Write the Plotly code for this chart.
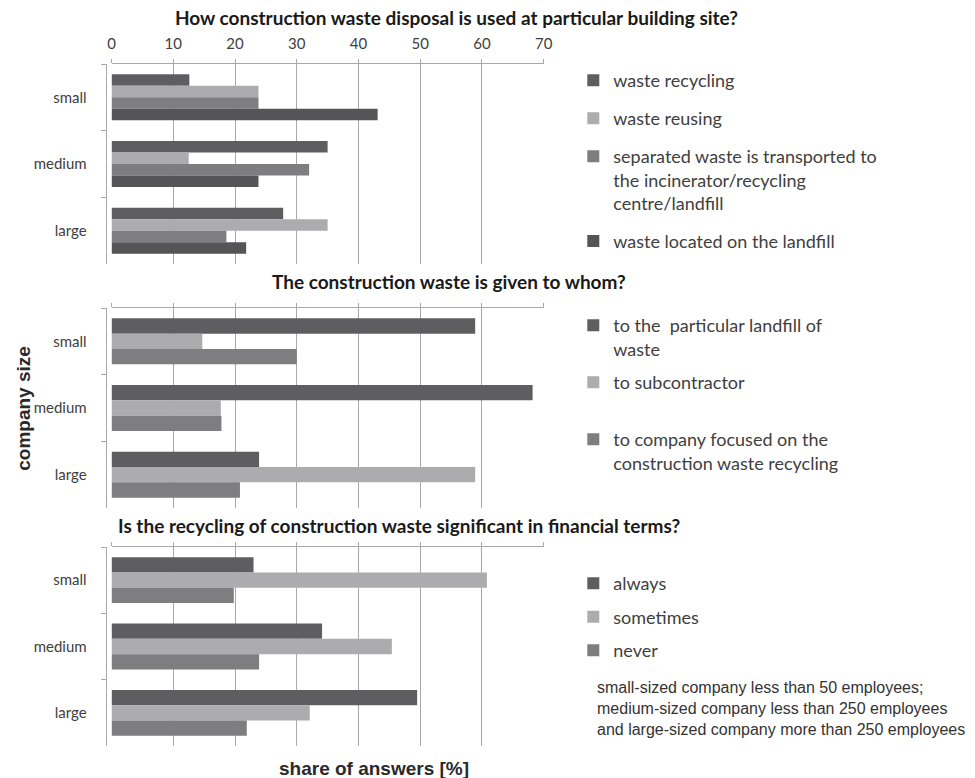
import plotly.graph_objects as go

# ---------------- data ----------------
sizes = ["small", "medium", "large"]
x_ticks = [0, 10, 20, 30, 40, 50, 60, 70]

p1_title = "How construction waste disposal is used at particular building site?"
p1_names = ["waste recycling", "waste reusing",
            "separated waste is transported to<br>the incinerator/recycling<br>centre/landfill",
            "waste located on the landfill"]
p1_recycling = [12.6, 35.0, 27.8]
p1_reusing = [23.8, 12.5, 35.0]
p1_separated = [23.8, 32.0, 18.6]
p1_landfill = [43.1, 23.8, 21.8]

p2_title = "The construction waste is given to whom?"
p2_names = ["to the  particular landfill of<br>waste", "to subcontractor<br>\u00a0",
            "to company focused on the<br>construction waste recycling"]
p2_landfill = [58.9, 68.2, 23.9]
p2_subcontractor = [14.7, 17.7, 58.9]
p2_company = [30.0, 17.8, 20.8]

p3_title = "Is the recycling of construction waste significant in financial terms?"
p3_names = ["always", "sometimes", "never"]
p3_always = [23.0, 34.1, 49.5]
p3_sometimes = [60.8, 45.4, 32.1]
p3_never = [19.8, 23.9, 21.9]

note_lines = ["small-sized company less than 50 employees;",
              "medium-sized company less than 250 employees",
              "and large-sized company more than 250 employees"]
y_title = "company size"
x_title = "share of answers [%]"

# ---------------- style ----------------
W, H = 975, 778
DARK = "#5e5e61"
LIGHT = "#acacae"
MID = "#7e7e81"
DARKEST = "#555557"
GRID = "#a8a8a8"
TXT = "#404040"
FONT = "Lato"


def px(x):
    return x / W


def py(y):
    return 1 - y / H


fig = go.Figure()

panels = [
    (p1_names, [p1_recycling, p1_reusing, p1_separated, p1_landfill],
     [DARK, LIGHT, MID, DARKEST], "x", "y", "legend"),
    (p2_names, [p2_landfill, p2_subcontractor, p2_company],
     [DARK, LIGHT, MID], "x2", "y2", "legend2"),
    (p3_names, [p3_always, p3_sometimes, p3_never],
     [DARK, LIGHT, MID], "x3", "y3", "legend3"),
]

for pi, (names, series, colors, xa, ya, lg) in enumerate(panels):
    for si, (nm, vals, col) in enumerate(zip(names, series, colors)):
        fig.add_trace(go.Bar(
            x=vals, y=sizes, orientation="h", name=nm,
            marker=dict(color=col, line=dict(width=0)),
            xaxis=xa, yaxis=ya, legend=lg,
            legendgroup=f"p{pi}s{si}",
        ))

x_dom = [px(109), px(547)]
y_doms = [[py(264), py(64)], [py(508), py(308)], [py(746), py(547)]]

common_x = dict(domain=x_dom, range=[0, 70], tickvals=x_ticks, showgrid=True,
                gridcolor=GRID, gridwidth=1, zeroline=False, side="top",
                showline=True, linecolor=GRID, linewidth=1, ticks="outside",
                ticklen=4, tickcolor=GRID, fixedrange=True)
common_y = dict(type="category", categoryorder="array", categoryarray=sizes,
                autorange="reversed", anchor="free", position=px(103),
                showline=True, linecolor=GRID, linewidth=1, ticks="outside",
                tickson="boundaries", ticklen=5, tickcolor=GRID,
                showgrid=False, zeroline=False,
                tickfont=dict(family=FONT, size=15, color=TXT),
                ticklabelstandoff=16)

bottom_x = dict(domain=x_dom, range=[0, 70], tickvals=x_ticks, showgrid=False,
                zeroline=False, side="bottom", showline=False, ticks="outside",
                ticklen=6, tickcolor=GRID, showticklabels=False)

fig.update_layout(
    width=W, height=H,
    margin=dict(l=0, r=0, t=0, b=0),
    paper_bgcolor="white", plot_bgcolor="white",
    barmode="group", bargap=0.31, bargroupgap=0,
    font=dict(family=FONT, color=TXT),
    xaxis=dict(common_x, anchor="y", showticklabels=True,
               tickfont=dict(family=FONT, size=15, color=TXT), ticklabelstandoff=4),
    xaxis2=dict(common_x, anchor="y2", showticklabels=False),
    xaxis3=dict(common_x, anchor="y3", showticklabels=False),
    xaxis4=dict(bottom_x, anchor="y", overlaying="x"),
    xaxis5=dict(bottom_x, anchor="y2", overlaying="x2"),
    xaxis6=dict(bottom_x, anchor="y3", overlaying="x3"),
    yaxis=dict(common_y, domain=y_doms[0]),
    yaxis2=dict(common_y, domain=y_doms[1]),
    yaxis3=dict(common_y, domain=y_doms[2]),
)

leg_common = dict(xanchor="left", yanchor="top", traceorder="grouped",
                  font=dict(family=FONT, size=18, color=TXT),
                  bgcolor="rgba(0,0,0,0)", borderwidth=0, valign="top",
                  itemclick=False, itemdoubleclick=False)
fig.update_layout(
    legend=dict(leg_common, x=px(577), y=py(62), tracegroupgap=11.6),
    legend2=dict(leg_common, x=px(577), y=py(307), tracegroupgap=7.2),
    legend3=dict(leg_common, x=px(577), y=py(565), tracegroupgap=7.1),
)

# titles (left edges as in the reference)
for t, xx, yy in [(p1_title, 171, 17), (p2_title, 270, 282), (p3_title, 114, 525)]:
    fig.add_annotation(text=f"<b>{t}</b>", x=px(xx), y=py(yy), xref="paper",
                       yref="paper", showarrow=False, xanchor="left",
                       yanchor="middle", font=dict(family=FONT, size=19, color="#1a1a1a"))

fig.add_annotation(text=f"<b>{y_title}</b>", x=px(19), y=py(408), xref="paper",
                   yref="paper", showarrow=False, textangle=-90,
                   xanchor="center", yanchor="middle",
                   font=dict(family="Liberation Sans", size=19, color="#2a2a2a"))
fig.add_annotation(text=f"<b>{x_title}</b>", x=px(277), y=py(768), xref="paper",
                   yref="paper", showarrow=False, xanchor="left",
                   yanchor="middle",
                   font=dict(family="Liberation Sans", size=19, color="#2a2a2a"))
fig.add_annotation(text="<br>".join(note_lines), x=px(599), y=py(677), xref="paper",
                   yref="paper", showarrow=False, xanchor="left", yanchor="top",
                   align="left",
                   font=dict(family="Liberation Sans", size=16, color="#333333"))

fig.write_html("out.html")
